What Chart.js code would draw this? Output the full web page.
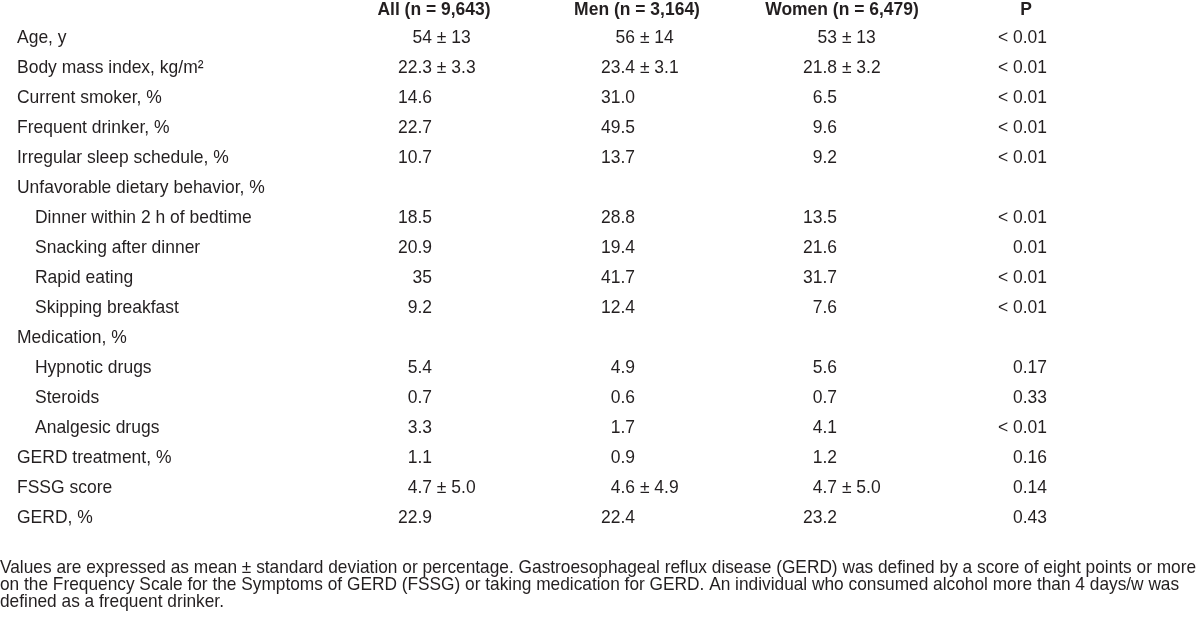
<!DOCTYPE html>
<html>
<head>
<meta charset="utf-8">
<script src="https://cdn.jsdelivr.net/npm/chart.js@4.4.1/dist/chart.umd.min.js"></script>
<style>
  html,body{margin:0;padding:0;background:#fff}
  #wrap{width:1200px;height:636px}
</style>
</head>
<body>
<div id="wrap"><canvas id="tbl"></canvas></div>
<script>
// table content
const rowLabels = ['Age, y','Body mass index, kg/m²','Current smoker, %','Frequent drinker, %','Irregular sleep schedule, %',
  'Unfavorable dietary behavior, %','Dinner within 2 h of bedtime','Snacking after dinner','Rapid eating','Skipping breakfast',
  'Medication, %','Hypnotic drugs','Steroids','Analgesic drugs','GERD treatment, %','FSSG score','GERD, %'];
const subRow = [0,0,0,0,0,0,1,1,1,1,0,1,1,1,0,0,0];
const groups = ['All (n = 9,643)','Men (n = 3,164)','Women (n = 6,479)','P'];

const allMean   = ['54','22.3','14.6','22.7','10.7',null,'18.5','20.9','35','9.2',null,'5.4','0.7','3.3','1.1','4.7','22.9'];
const allSD     = ['13','3.3',null,null,null,null,null,null,null,null,null,null,null,null,null,'5.0',null];
const menMean   = ['56','23.4','31.0','49.5','13.7',null,'28.8','19.4','41.7','12.4',null,'4.9','0.6','1.7','0.9','4.6','22.4'];
const menSD     = ['14','3.1',null,null,null,null,null,null,null,null,null,null,null,null,null,'4.9',null];
const womenMean = ['53','21.8','6.5','9.6','9.2',null,'13.5','21.6','31.7','7.6',null,'5.6','0.7','4.1','1.2','4.7','23.2'];
const womenSD   = ['13','3.2',null,null,null,null,null,null,null,null,null,null,null,null,null,'5.0',null];
const pValues   = ['< 0.01','< 0.01','< 0.01','< 0.01','< 0.01',null,'< 0.01','0.01','< 0.01','< 0.01',null,'0.17','0.33','< 0.01','0.16','0.14','0.43'];

const footnote = [
  'Values are expressed as mean ± standard deviation or percentage. Gastroesophageal reflux disease (GERD) was defined by a score of eight points or more',
  'on the Frequency Scale for the Symptoms of GERD (FSSG) or taking medication for GERD. An individual who consumed alcohol more than 4 days/w was',
  'defined as a frequent drinker.'
];

// styling
const INK = '#231f20';
const FACE = '"Liberation Sans", Arial, sans-serif';
const SIZE = 19;
const SX = 0.92;              // condensed look
const NOTE_SX = 0.91;
const valueShift = [0, 0, -1, 6];
const headShift = [2, 2, 4, -15];

const columns = [
  {mean: allMean, sd: allSD},
  {mean: menMean, sd: menSD},
  {mean: womenMean, sd: womenSD},
  {mean: pValues, sd: null}
];

function txt(ctx, s, x, y, align, bold, sx){
  ctx.save();
  ctx.font = (bold ? 'bold ' : '') + SIZE + 'px ' + FACE;
  ctx.fillStyle = INK;
  ctx.textAlign = align;
  ctx.textBaseline = 'middle';
  ctx.translate(x, y);
  ctx.scale(sx || SX, 1);
  ctx.fillText(s, 0, 0);
  ctx.restore();
}

const tablePlugin = {
  id: 'tableText',
  afterDatasetsDraw(chart){
    const ctx = chart.ctx, ca = chart.chartArea;
    const xs = chart.scales.x, ys = chart.scales.y;

    // headers
    groups.forEach((g, c) => {
      txt(ctx, g, xs.getPixelForValue(c) + headShift[c], ca.top - 13, 'center', true);
    });

    // row labels
    rowLabels.forEach((r, i) => {
      txt(ctx, r, ca.left + (subRow[i] ? 35 : 17), ys.getPixelForValue(i), 'left', false);
    });

    // cells
    chart.data.datasets.forEach((ds, c) => {
      const meta = chart.getDatasetMeta(c);
      meta.data.forEach((el, j) => {
        const row = ds.data[j].row;
        const x = el.x + valueShift[c];
        txt(ctx, columns[c].mean[row], x, el.y, 'right', false);
        if (columns[c].sd && columns[c].sd[row] !== null) {
          txt(ctx, ' ± ' + columns[c].sd[row], x, el.y, 'left', false);
        }
      });
    });

    // footnote
    footnote.forEach((line, i) => {
      txt(ctx, line, 0, 568 + i * 17, 'left', false, NOTE_SX);
    });
  }
};

new Chart(document.getElementById('tbl'), {
  type: 'scatter',
  data: {
    datasets: columns.map((col, c) => ({
      label: groups[c],
      data: rowLabels.map((r, i) => ({x: c, y: r, row: i})).filter(p => col.mean[p.row] !== null),
      pointRadius: 0,
      pointHoverRadius: 0
    }))
  },
  options: {
    responsive: true,
    maintainAspectRatio: false,
    animation: false,
    events: [],
    layout: {padding: {top: 23, bottom: 103, left: 0, right: 0}},
    scales: {
      x: {type: 'linear', min: -2.128, max: 3.783, display: false},
      y: {type: 'category', labels: rowLabels, offset: true, display: false}
    },
    plugins: {legend: {display: false}, tooltip: {enabled: false}}
  },
  plugins: [tablePlugin]
});
</script>
</body>
</html>
